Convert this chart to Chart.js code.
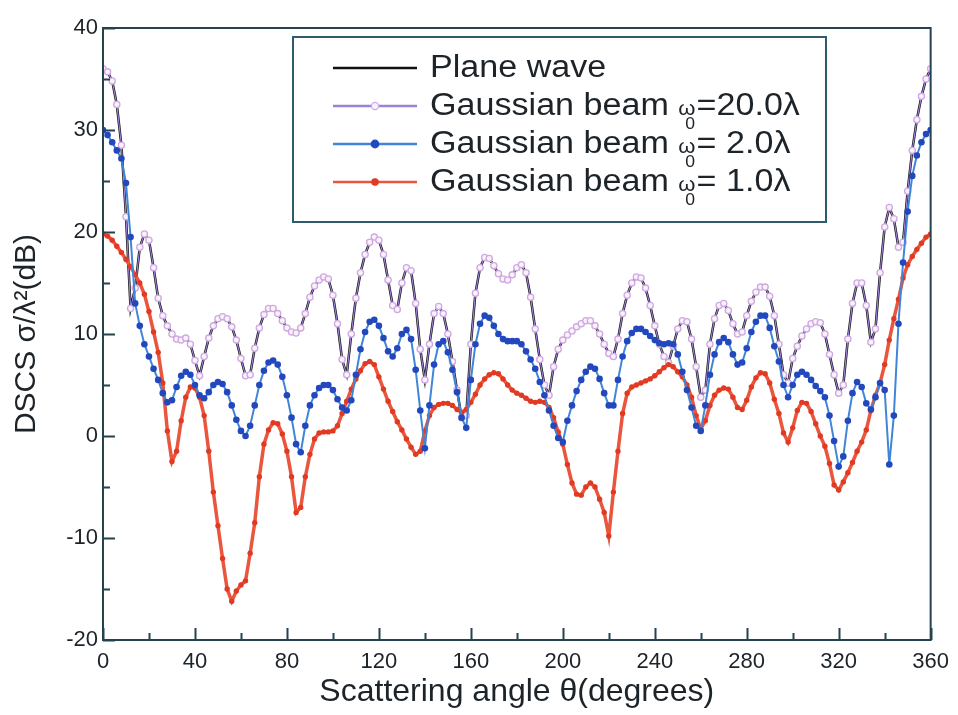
<!DOCTYPE html>
<html>
<head>
<meta charset="utf-8">
<script src="https://cdn.jsdelivr.net/npm/chart.js@4.4.1/dist/chart.umd.min.js"></script>
<style>
  html, body { margin: 0; padding: 0; background: #fff; }
  #wrap { width: 958px; height: 715px; }
</style>
</head>
<body>
<div id="wrap"><canvas id="dscs" width="958" height="715"></canvas></div>
<script>
// scattering angle (degrees)
const angles = [
  0, 2, 4, 6, 8, 10, 12, 14, 16, 18,
  20, 22, 24, 26, 28, 30, 32, 34, 36, 38,
  40, 42, 44, 46, 48, 50, 52, 54, 56, 58,
  60, 62, 64, 66, 68, 70, 72, 74, 76, 78,
  80, 82, 84, 86, 88, 90, 92, 94, 96, 98,
  100, 102, 104, 106, 108, 110, 112, 114, 116, 118,
  120, 122, 124, 126, 128, 130, 132, 134, 136, 138,
  140, 142, 144, 146, 148, 150, 152, 154, 156, 158,
  160, 162, 164, 166, 168, 170, 172, 174, 176, 178,
  180, 182, 184, 186, 188, 190, 192, 194, 196, 198,
  200, 202, 204, 206, 208, 210, 212, 214, 216, 218,
  220, 222, 224, 226, 228, 230, 232, 234, 236, 238,
  240, 242, 244, 246, 248, 250, 252, 254, 256, 258,
  260, 262, 264, 266, 268, 270, 272, 274, 276, 278,
  280, 282, 284, 286, 288, 290, 292, 294, 296, 298,
  300, 302, 304, 306, 308, 310, 312, 314, 316, 318,
  320, 322, 324, 326, 328, 330, 332, 334, 336, 338,
  340, 342, 344, 346, 348, 350, 352, 354, 356, 358,
  360
]

// DSCS (dB)
const planeWave = [
  36.0, 35.7, 34.8, 32.5, 28.5, 21.5, 12.5, 14.5, 18.5, 19.8,
  19.2, 16.5, 13.5, 11.8, 10.8, 10.0, 9.5, 9.4, 9.6, 9.0,
  7.4, 5.9, 7.8, 9.6, 10.8, 11.5, 11.7, 11.5, 10.7, 9.4,
  7.6, 5.9, 6.0, 8.6, 10.6, 11.9, 12.5, 12.5, 12.0, 11.3,
  10.6, 10.2, 10.1, 10.6, 12.0, 13.6, 14.7, 15.3, 15.6, 15.4,
  13.8, 11.0, 7.5, 6.0, 10.0, 13.5, 16.0, 17.8, 19.0, 19.5,
  19.2, 17.8, 15.3, 12.8, 12.4, 15.0, 16.5, 16.2, 13.0, 8.5,
  5.5, 9.0, 12.0, 12.7, 12.0, 10.0, 7.3, 4.5, 1.8, 2.0,
  9.0, 14.0, 16.5, 17.5, 17.4, 16.7, 15.9, 15.4, 15.3, 15.8,
  16.5, 16.8, 16.0, 13.6, 10.5, 7.5, 5.0, 4.0, 6.8, 8.5,
  9.4, 9.9, 10.3, 10.7, 11.0, 11.3, 11.3, 10.8, 10.0, 9.0,
  8.1, 7.8, 9.5, 12.0, 13.8, 15.0, 15.6, 15.5, 14.5, 12.8,
  10.8, 9.0, 7.8, 7.2, 8.8, 10.5, 11.3, 11.2, 9.5, 6.8,
  3.8, 4.5, 9.0, 11.5, 12.8, 13.0, 12.3, 11.0, 10.0, 10.2,
  11.8, 13.2, 14.1, 14.6, 14.6, 13.7, 11.8, 9.0, 6.0, 5.2,
  7.6, 8.8, 9.8, 10.5, 11.0, 11.2, 11.1, 10.0, 8.0, 6.0,
  4.2, 5.0, 9.5, 13.0, 15.0, 15.0, 12.8, 9.2, 10.5, 16.0,
  20.5, 22.4, 21.3, 18.5, 19.0, 24.0, 28.0, 31.0, 33.3, 35.0,
  36.0
]

// w0 = 20.0 lambda lies on top of the plane wave curve
const gauss20 = [
  36.0, 35.7, 34.8, 32.5, 28.5, 21.5, 12.5, 14.5, 18.5, 19.8,
  19.2, 16.5, 13.5, 11.8, 10.8, 10.0, 9.5, 9.4, 9.6, 9.0,
  7.4, 5.9, 7.8, 9.6, 10.8, 11.5, 11.7, 11.5, 10.7, 9.4,
  7.6, 5.9, 6.0, 8.6, 10.6, 11.9, 12.5, 12.5, 12.0, 11.3,
  10.6, 10.2, 10.1, 10.6, 12.0, 13.6, 14.7, 15.3, 15.6, 15.4,
  13.8, 11.0, 7.5, 6.0, 10.0, 13.5, 16.0, 17.8, 19.0, 19.5,
  19.2, 17.8, 15.3, 12.8, 12.4, 15.0, 16.5, 16.2, 13.0, 8.5,
  5.5, 9.0, 12.0, 12.7, 12.0, 10.0, 7.3, 4.5, 1.8, 2.0,
  9.0, 14.0, 16.5, 17.5, 17.4, 16.7, 15.9, 15.4, 15.3, 15.8,
  16.5, 16.8, 16.0, 13.6, 10.5, 7.5, 5.0, 4.0, 6.8, 8.5,
  9.4, 9.9, 10.3, 10.7, 11.0, 11.3, 11.3, 10.8, 10.0, 9.0,
  8.1, 7.8, 9.5, 12.0, 13.8, 15.0, 15.6, 15.5, 14.5, 12.8,
  10.8, 9.0, 7.8, 7.2, 8.8, 10.5, 11.3, 11.2, 9.5, 6.8,
  3.8, 4.5, 9.0, 11.5, 12.8, 13.0, 12.3, 11.0, 10.0, 10.2,
  11.8, 13.2, 14.1, 14.6, 14.6, 13.7, 11.8, 9.0, 6.0, 5.2,
  7.6, 8.8, 9.8, 10.5, 11.0, 11.2, 11.1, 10.0, 8.0, 6.0,
  4.2, 5.0, 9.5, 13.0, 15.0, 15.0, 12.8, 9.2, 10.5, 16.0,
  20.5, 22.4, 21.3, 18.5, 19.0, 24.0, 28.0, 31.0, 33.3, 35.0,
  36.0
]

const gauss2 = [
  30.0, 29.5, 28.8, 28.0, 27.2, 24.8, 19.5, 13.0, 10.8, 9.0,
  7.8, 6.6, 5.5, 4.2, 3.3, 3.5, 4.8, 5.9, 6.3, 6.0,
  5.0, 4.0, 3.7, 4.3, 5.0, 5.3, 5.1, 4.3, 3.0, 1.6,
  0.5, 0.0, 1.0, 3.0, 5.0, 6.4, 7.2, 7.4, 7.0, 5.8,
  4.0, 1.8, -0.8, -1.6, 1.0, 3.0, 4.0, 4.7, 5.0, 5.0,
  4.5, 3.6, 2.8, 2.5, 3.5, 6.0, 8.5, 10.2, 11.2, 11.4,
  10.8, 9.6, 8.3, 7.8, 8.6, 10.0, 10.4, 9.5, 6.5, 2.5,
  -1.2, 3.0, 7.0, 9.0, 9.3, 8.2, 6.5, 4.3, 1.8, 0.8,
  5.5, 9.0, 11.0, 11.8, 11.6, 10.8, 10.0, 9.5, 9.3, 9.3,
  9.3, 9.0, 8.3, 7.5, 6.6, 5.3, 4.0, 2.5, 1.0, -0.2,
  -0.6, 1.5, 3.0, 4.4, 5.5, 6.3, 6.8, 6.6, 5.6, 4.2,
  3.0, 3.0, 5.5, 7.8, 9.3, 10.1, 10.5, 10.5, 10.2, 9.8,
  9.4, 9.1, 9.0, 9.1, 9.0, 8.0, 6.3, 4.5, 2.8, 1.0,
  0.5, 3.0, 6.0, 8.0, 9.2, 9.6, 9.2, 8.0, 7.0, 7.2,
  8.6, 10.2, 11.2, 11.8, 11.8, 10.6, 8.8, 7.3, 5.0, 3.8,
  5.0, 6.0, 6.3, 6.0, 5.5, 4.9, 4.4, 3.8, 2.0, -0.5,
  -3.0, -2.0, 1.5, 4.2, 5.3, 4.8, 3.2, 2.6, 3.8, 5.2,
  4.5, -2.8, 2.0, 11.0, 17.0, 22.0, 25.5, 27.5, 28.8, 29.6,
  30.0
]

const gauss1 = [
  19.8, 19.6, 19.2, 18.6, 18.0, 17.3, 16.6, 15.8, 15.0, 13.9,
  12.2, 10.2, 8.2, 5.2, 0.5, -2.5, -1.5, 1.5, 3.8, 4.8,
  4.7, 3.8, 2.0, -1.5, -5.5, -8.8, -12.0, -15.0, -16.2, -15.2,
  -14.6, -14.2, -11.5, -8.5, -4.0, -0.8, 0.6, 1.3, 1.2, 0.2,
  -1.5, -4.0, -7.5, -7.0, -4.0, -1.8, -0.3, 0.3, 0.4, 0.4,
  0.5, 1.0, 2.2, 3.4, 4.6, 5.6, 6.4, 7.1, 7.3, 7.0,
  5.8, 4.6, 3.4, 2.4, 1.4, 0.6, -0.3, -1.1, -1.8, -1.5,
  0.5, 2.0, 2.8, 3.1, 3.2, 3.2, 3.0, 2.6, 2.3, 2.6,
  3.3, 4.1, 5.0, 5.6, 6.0, 6.2, 6.1, 5.6, 5.0, 4.5,
  4.2, 4.0, 3.7, 3.4, 3.3, 3.4, 3.3, 2.8, 1.8, 0.4,
  -0.8, -2.8, -4.6, -5.7, -5.8, -5.0, -4.6, -5.0, -6.2, -7.5,
  -9.8, -5.5, -1.5, 2.2, 4.2, 4.8, 5.0, 5.2, 5.4, 5.6,
  5.9, 6.3, 6.7, 7.0, 6.8, 6.3, 5.8, 5.0, 3.8, 2.0,
  0.7, 1.5, 3.0, 4.0, 4.5, 4.7, 4.6, 3.8, 2.8, 2.6,
  3.5, 4.8, 5.7, 6.2, 6.1, 5.2, 3.6, 2.2, 0.3, -0.6,
  0.8, 2.5, 3.3, 3.2, 2.4, 1.2, 0.0, -1.0, -2.7, -4.8,
  -5.3, -4.5, -3.6, -2.6, -1.5, -0.6, 0.6, 2.5, 4.0, 5.2,
  7.0, 9.4, 11.5, 13.4, 15.5, 16.8, 17.6, 18.3, 18.9, 19.5,
  19.8
]

const xTicks = [0, 40, 80, 120, 160, 200, 240, 280, 320, 360]
const yTicks = [-20, -10, 0, 10, 20, 30, 40]

// legend text: [main, omega, subscript, rest]
const legendText = [
  ['Plane wave'],
  ['Gaussian beam ', 'ω', '0', '=20.0λ'],
  ['Gaussian beam ', 'ω', '0', '= 2.0λ'],
  ['Gaussian beam ', 'ω', '0', '= 1.0λ']
]

const FONT = '"Liberation Sans", Arial, sans-serif'
const INK = '#1c2329'
const AXIS = '#24434f'

function pts(arr) {
  return angles.map((a, i) => ({x: a, y: arr[i]}))
}

// box frame + inward major/minor ticks like the original plot
const framePlugin = {
  id: 'frame',
  afterDraw(chart) {
    const {ctx, chartArea: a, scales: {x, y}} = chart
    ctx.save()
    ctx.strokeStyle = AXIS
    ctx.lineWidth = 2
    ctx.strokeRect(a.left, a.top, a.right - a.left, a.bottom - a.top)
    ctx.beginPath()
    for (let v = 0; v <= 360; v += 20) {
      const px = Math.round(x.getPixelForValue(v)) + 0.5
      const len = v % 40 === 0 ? 12 : 7
      ctx.moveTo(px, a.bottom)
      ctx.lineTo(px, a.bottom - len)
    }
    for (let v = -20; v <= 40; v += 5) {
      const py = Math.round(y.getPixelForValue(v)) + 0.5
      const len = v % 10 === 0 ? 12 : 7
      ctx.moveTo(a.left, py)
      ctx.lineTo(a.left + len, py)
    }
    ctx.stroke()
    ctx.restore()
  }
}

const legendPlugin = {
  id: 'boxLegend',
  afterDraw(chart) {
    const ctx = chart.ctx
    const box = {l: 293, t: 37, r: 826, b: 222}
    ctx.save()
    ctx.fillStyle = '#fff'
    ctx.fillRect(box.l, box.t, box.r - box.l, box.b - box.t)
    ctx.strokeStyle = '#2d5c6b'
    ctx.lineWidth = 2
    ctx.strokeRect(box.l, box.t, box.r - box.l, box.b - box.t)

    const rows = [68, 106, 144, 182]
    const sets = chart.data.datasets
    sets.forEach((ds, r) => {
      const cy = rows[r]
      ctx.strokeStyle = ds.borderColor
      ctx.lineWidth = 2.5
      ctx.beginPath()
      ctx.moveTo(333, cy)
      ctx.lineTo(417, cy)
      ctx.stroke()
      if (ds.pointRadius > 0) {
        ctx.beginPath()
        ctx.arc(375, cy, ds.pointRadius + 0.5, 0, Math.PI * 2)
        ctx.fillStyle = ds.pointBackgroundColor
        ctx.fill()
        ctx.strokeStyle = ds.pointBorderColor
        ctx.lineWidth = 1.2
        ctx.stroke()
      }
      // the original lettering is a little wider than Arial
      const t = legendText[r]
      ctx.save()
      ctx.translate(430, cy)
      ctx.scale(1.1, 1)
      ctx.fillStyle = INK
      ctx.textBaseline = 'middle'
      ctx.textAlign = 'left'
      let tx = 0
      ctx.font = '31px ' + FONT
      ctx.fillText(t[0], tx, 0)
      tx += ctx.measureText(t[0]).width
      if (t.length > 1) {
        ctx.font = '20px ' + FONT
        ctx.fillText(t[1], tx, 3)
        const ow = ctx.measureText(t[1]).width
        ctx.font = '16px ' + FONT
        ctx.fillText(t[2], tx + ow * 0.4, 19)
        tx += ow + 1
        ctx.font = '31px ' + FONT
        ctx.fillText(t[3], tx, 0)
      }
      ctx.restore()
    })
    ctx.restore()
  }
}

window.addEventListener('DOMContentLoaded', () => {
  const ctx = document.getElementById('dscs')
  const chart = new Chart(ctx, {
    type: 'line',
    data: {
      datasets: [
        {
          label: 'Plane wave',
          data: pts(planeWave),
          borderColor: '#111111',
          borderWidth: 2.5,
          pointRadius: 0,
          pointBackgroundColor: '#111',
          pointBorderColor: '#111',
          order: 3
        },
        {
          label: 'Gaussian beam ω0=20.0λ',
          data: pts(gauss20),
          borderColor: '#9c82d6',
          borderWidth: 1.2,
          pointRadius: 3.1,
          pointBackgroundColor: '#f8f2fb',
          pointBorderColor: '#d0a8e2',
          pointBorderWidth: 1.3,
          order: 2
        },
        {
          label: 'Gaussian beam ω0= 2.0λ',
          data: pts(gauss2),
          borderColor: '#3f86d9',
          borderWidth: 2,
          pointRadius: 3.3,
          pointBackgroundColor: '#2348bd',
          pointBorderColor: '#2348bd',
          pointBorderWidth: 0,
          order: 0
        },
        {
          label: 'Gaussian beam ω0= 1.0λ',
          data: pts(gauss1),
          borderColor: '#e9553d',
          borderWidth: 3.5,
          pointRadius: 2.7,
          pointBackgroundColor: '#e23a22',
          pointBorderColor: '#e23a22',
          pointBorderWidth: 0,
          order: 1
        }
      ]
    },
    options: {
      responsive: false,
      animation: false,
      layout: {padding: {top: 28, right: 23, left: 0, bottom: 0}},
      plugins: {legend: {display: false}, tooltip: {enabled: false}},
      scales: {
        x: {
          type: 'linear',
          min: 0,
          max: 360,
          afterBuildTicks: s => { s.ticks = xTicks.map(v => ({value: v})) },
          afterFit: s => { s.height = 75 },
          grid: {display: false, drawTicks: false},
          border: {display: false},
          ticks: {color: INK, padding: 9, font: {family: FONT, size: 22}},
          title: {
            display: true,
            text: 'Scattering angle θ(degrees)',
            color: INK,
            font: {family: FONT, size: 32},
            padding: {top: 0, bottom: 4}
          }
        },
        y: {
          min: -20,
          max: 40,
          afterBuildTicks: s => { s.ticks = yTicks.map(v => ({value: v})) },
          afterFit: s => { s.width = 103 },
          grid: {display: false, drawTicks: false},
          border: {display: false},
          ticks: {color: INK, padding: 5, font: {family: FONT, size: 22}},
          title: {
            display: true,
            text: 'DSCS σ/λ²(dB)',
            color: INK,
            font: {family: FONT, size: 30},
            padding: {top: 9, bottom: 0}
          }
        }
      }
    },
    plugins: [framePlugin, legendPlugin]
  })
})
</script>
</body>
</html>
